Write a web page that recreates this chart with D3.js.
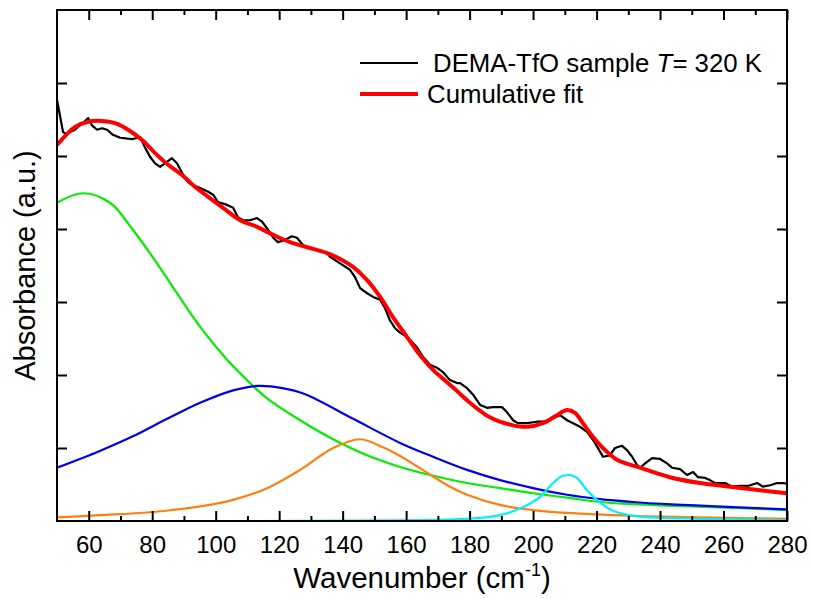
<!DOCTYPE html>
<html>
<head>
<meta charset="utf-8">
<script src="https://cdn.jsdelivr.net/npm/d3@7"></script>
<style>
  body { margin: 0; background: #fff; }
  svg { font-family: "Liberation Sans", Arial, sans-serif; }
</style>
</head>
<body>
<div id="chart"></div>
<script>
// measured spectrum (black)
const sampleX = [50.0, 51.9, 53.2, 54.1, 55.7, 56.6, 58.2, 59.8, 61.0, 62.6, 64.2, 65.8, 67.6, 69.9, 73.6, 76.2, 77.7, 79.3, 80.9, 82.5,
  84.0, 86.2, 87.8, 89.4, 91.3, 92.9, 95.1, 97.6, 99.2, 100.7, 103.6, 105.5, 107.0, 108.6, 110.8, 113.0, 114.6, 116.5, 118.1, 119.6,
  121.8, 124.0, 125.6, 127.5, 129.7, 132.2, 135.1, 136.0, 139.2, 142.3, 143.9, 145.5, 147.7, 149.6, 151.8, 153.3, 154.9, 156.5, 158.1, 160.3,
  161.9, 163.4, 165.3, 167.5, 169.7, 171.6, 173.8, 176.0, 177.0, 179.2, 181.1, 183.3, 185.5, 187.4, 190.2, 191.8, 193.7, 195.2, 198.1, 201.2,
  204.4, 206.3, 208.5, 210.7, 212.6, 214.8, 217.0, 218.9, 221.1, 222.0, 224.2, 225.8, 228.0, 229.6, 231.2, 232.7, 233.7, 235.3, 237.5, 240.0,
  242.2, 243.8, 246.3, 248.5, 250.4, 252.0, 254.2, 255.7, 257.3, 260.5, 262.7, 265.2, 267.7, 270.6, 272.4, 274.7, 276.9, 278.8, 280.0];
const sampleY = [5.77, 5.33, 5.29, 5.33, 5.36, 5.40, 5.45, 5.52, 5.42, 5.36, 5.38, 5.36, 5.29, 5.25, 5.23, 5.26, 5.12, 4.99, 4.90, 4.85,
  4.90, 4.97, 4.90, 4.77, 4.64, 4.60, 4.56, 4.51, 4.47, 4.37, 4.33, 4.29, 4.16, 4.12, 4.12, 4.15, 4.10, 3.99, 3.88, 3.82,
  3.85, 3.90, 3.88, 3.78, 3.74, 3.71, 3.67, 3.62, 3.53, 3.44, 3.34, 3.19, 3.12, 3.07, 3.03, 2.92, 2.75, 2.64, 2.58, 2.52,
  2.45, 2.38, 2.25, 2.14, 2.10, 2.04, 1.93, 1.89, 1.89, 1.82, 1.73, 1.59, 1.55, 1.56, 1.56, 1.49, 1.38, 1.34, 1.34, 1.36,
  1.36, 1.41, 1.45, 1.38, 1.34, 1.29, 1.22, 1.11, 0.95, 0.88, 0.90, 1.00, 1.03, 0.97, 0.88, 0.77, 0.73, 0.79, 0.86, 0.85,
  0.79, 0.73, 0.71, 0.63, 0.67, 0.60, 0.59, 0.56, 0.52, 0.52, 0.47, 0.48, 0.48, 0.52, 0.47, 0.49, 0.52, 0.52, 0.51];

// cumulative fit (red)
const fitX = [50.0, 55.7, 59.8, 64.2, 68.3, 72.4, 76.8, 80.9, 85.0, 89.4, 92.9, 102.3, 107.7, 113.0, 118.1, 123.4, 128.8, 135.1, 139.2, 143.3,
  147.7, 151.8, 155.9, 160.3, 164.4, 168.5, 172.9, 176.3, 180.1, 186.4, 192.7, 198.1, 203.1, 207.5, 210.7, 213.2, 215.7, 218.9, 222.0, 226.4,
  233.7, 243.1, 252.6, 262.0, 271.5, 280.0];
const fitY = [5.15, 5.40, 5.47, 5.48, 5.45, 5.36, 5.22, 5.04, 4.88, 4.74, 4.60, 4.29, 4.12, 4.03, 3.92, 3.82, 3.75, 3.67, 3.59, 3.48,
  3.30, 3.07, 2.79, 2.52, 2.27, 2.07, 1.90, 1.77, 1.62, 1.42, 1.32, 1.29, 1.34, 1.45, 1.52, 1.48, 1.34, 1.15, 1.00, 0.84,
  0.73, 0.60, 0.52, 0.47, 0.42, 0.38];

// fitted components
const greenX = [50.0, 58.2, 66.7, 73.9, 81.5, 87.8, 95.1, 103.6, 111.8, 116.2, 126.6, 137.0, 147.7, 158.1, 168.5, 179.2, 189.6, 200.0, 210.7, 221.1, 231.5, 242.2, 263.0, 280.0];
const greenY = [4.36, 4.49, 4.36, 3.99, 3.53, 3.12, 2.66, 2.21, 1.85, 1.68, 1.38, 1.12, 0.90, 0.74, 0.62, 0.52, 0.45, 0.38, 0.32, 0.26, 0.23, 0.21, 0.18, 0.15];

const blueX = [50.0, 63.5, 73.9, 84.7, 95.1, 105.5, 113.3, 121.0, 128.0, 143.3, 158.1, 168.5, 179.2, 189.6, 200.0, 210.7, 221.1, 231.5, 242.2, 252.6, 263.0, 280.0];
const blueY = [0.73, 0.96, 1.16, 1.40, 1.62, 1.79, 1.85, 1.82, 1.74, 1.40, 1.07, 0.88, 0.70, 0.56, 0.45, 0.36, 0.30, 0.26, 0.23, 0.21, 0.19, 0.16];

const orangeX = [50.0, 63.5, 79.3, 95.1, 105.5, 116.2, 126.6, 137.0, 145.5, 152.7, 158.1, 163.4, 168.5, 173.8, 179.2, 189.6, 200.0, 210.7, 231.5, 252.6, 280.0];
const orangeY = [0.05, 0.08, 0.12, 0.20, 0.29, 0.45, 0.70, 1.00, 1.12, 1.01, 0.89, 0.75, 0.61, 0.47, 0.36, 0.22, 0.15, 0.11, 0.07, 0.05, 0.03];

const cyanX = [50.0, 111.8, 158.1, 179.2, 189.6, 196.8, 202.2, 206.3, 209.4, 211.6, 213.8, 217.0, 221.1, 226.4, 236.8, 252.6, 280.0];
const cyanY = [0.0, 0.0, 0.01, 0.03, 0.08, 0.19, 0.33, 0.52, 0.62, 0.63, 0.59, 0.42, 0.25, 0.12, 0.05, 0.03, 0.01];

const xMajor = [60, 80, 100, 120, 140, 160, 180, 200, 220, 240, 260, 280];
const xMinor = [70, 90, 110, 130, 150, 170, 190, 210, 230, 250, 270];
const yTicks = [1, 2, 3, 4, 5, 6];

const margin = { top: 10, right: 26, bottom: 78, left: 57 };
const width = 813 - margin.left - margin.right;
const height = 599 - margin.top - margin.bottom;

const svg = d3.select("#chart")
    .append("svg")
    .attr("width", 813)
    .attr("height", 599)
    .append("g")
    .attr("transform", `translate(${margin.left},${margin.top})`);

const xScale = d3.scaleLinear().domain([50, 280]).range([0, width]);
const yScale = d3.scaleLinear().domain([0, 7]).range([height, 0]);

svg.append("clipPath").attr("id", "clip")
    .append("rect").attr("width", width).attr("height", height);

const line = d3.line()
    .x(d => xScale(d[0]))
    .y(d => yScale(d[1]));

const smooth = d3.curveCatmullRom.alpha(0.5);
const series = [
    { x: greenX, y: greenY, color: "#00ee00", w: 2.2, curve: smooth },
    { x: blueX, y: blueY, color: "#0000ee", w: 2.2, curve: smooth },
    { x: orangeX, y: orangeY, color: "#ff8010", w: 2.2, curve: smooth },
    { x: cyanX, y: cyanY, color: "#00f0ff", w: 2.2, curve: d3.curveMonotoneX },
    { x: sampleX, y: sampleY, color: "#000000", w: 2.2, curve: d3.curveLinear },
    { x: fitX, y: fitY, color: "#ff0000", w: 4, curve: smooth }
];

series.forEach(s => {
    const pts = s.x.map((v, i) => [v, s.y[i]]);
    svg.append("path")
        .datum(pts)
        .attr("clip-path", "url(#clip)")
        .attr("fill", "none")
        .attr("stroke", s.color)
        .attr("stroke-width", s.w)
        .attr("stroke-linejoin", "round")
        .attr("d", line.curve(s.curve)(pts));
});

// axes, ticks pointing inward
const xAxis = d3.axisBottom(xScale).tickValues(xMajor).tickSize(-10).tickPadding(15);
svg.append("g")
    .attr("transform", `translate(0,${height})`)
    .call(xAxis)
    .call(g => g.select(".domain").remove())
    .call(g => g.selectAll("text").style("font-size", "24px").attr("fill", "#000"));
svg.append("g")
    .attr("transform", `translate(0,${height})`)
    .call(d3.axisBottom(xScale).tickValues(xMinor).tickSize(-5).tickFormat(""))
    .call(g => g.select(".domain").remove());
svg.append("g")
    .call(d3.axisTop(xScale).tickValues(xMajor).tickSize(-10).tickFormat(""))
    .call(g => g.select(".domain").remove());
svg.append("g")
    .call(d3.axisTop(xScale).tickValues(xMinor).tickSize(-5).tickFormat(""))
    .call(g => g.select(".domain").remove());
svg.append("g")
    .call(d3.axisLeft(yScale).tickValues(yTicks).tickSize(-10).tickFormat(""))
    .call(g => g.select(".domain").remove());
svg.append("g")
    .attr("transform", `translate(${width},0)`)
    .call(d3.axisRight(yScale).tickValues(yTicks).tickSize(-10).tickFormat(""))
    .call(g => g.select(".domain").remove());
svg.selectAll(".tick line").attr("stroke", "#000").attr("stroke-width", 2);

svg.append("rect")
    .attr("width", width).attr("height", height)
    .attr("fill", "none").attr("stroke", "#000").attr("stroke-width", 2);

// axis titles
const xt = svg.append("text")
    .attr("x", width / 2)
    .attr("y", 578)
    .attr("text-anchor", "middle")
    .style("font-size", "29.5px");
xt.append("tspan").text("Wavenumber (cm");
xt.append("tspan").attr("dy", -12).style("font-size", "18px").text("-1");
xt.append("tspan").attr("dy", 12).text(")");

svg.append("text")
    .attr("transform", `translate(${35 - margin.left},${height / 2}) rotate(-90)`)
    .attr("text-anchor", "middle")
    .style("font-size", "29px")
    .text("Absorbance (a.u.)");

// legend
const legend = svg.append("g").attr("transform", `translate(${-margin.left},${-margin.top})`);
legend.append("line").attr("x1", 360).attr("x2", 418).attr("y1", 63).attr("y2", 63)
    .attr("stroke", "#000").attr("stroke-width", 2.2);
legend.append("line").attr("x1", 360).attr("x2", 418).attr("y1", 94).attr("y2", 94)
    .attr("stroke", "#ff0000").attr("stroke-width", 4);
const l1 = legend.append("text").attr("x", 433).attr("y", 72).style("font-size", "25.8px");
l1.append("tspan").text("DEMA-TfO sample ");
l1.append("tspan").style("font-style", "italic").text("T");
l1.append("tspan").text("= 320 K");
legend.append("text").attr("x", 427).attr("y", 103).style("font-size", "25.8px").text("Cumulative fit");
</script>
</body>
</html>
